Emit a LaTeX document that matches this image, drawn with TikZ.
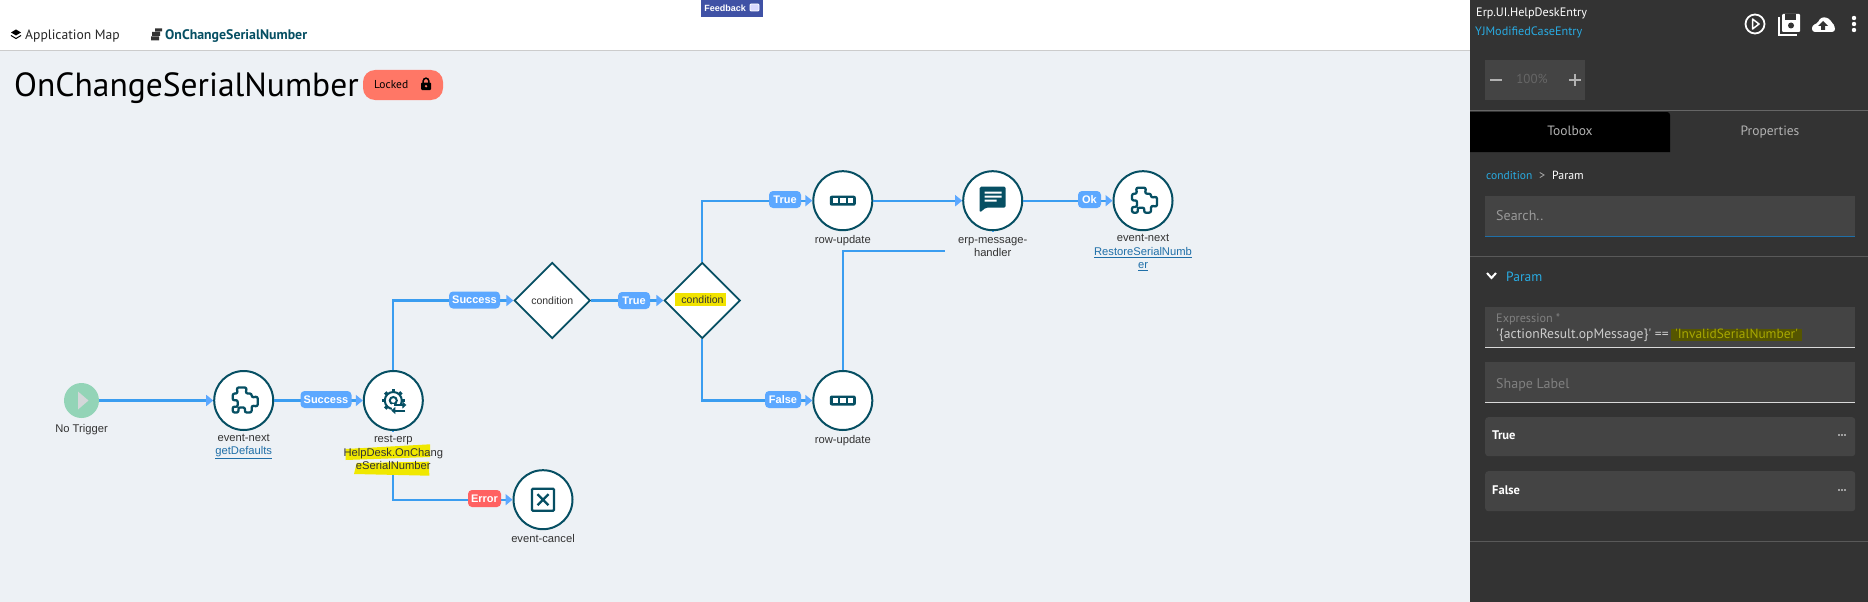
\documentclass[tikz,border=0pt]{standalone}
\usepackage{fontspec}
\setmainfont{Liberation Sans}
\newfontfamily\uifont{PT Sans}
\usetikzlibrary{arrows.meta,shapes.geometric}
\definecolor{canvas}{HTML}{EDF1F5}
\definecolor{panel}{HTML}{333333}
\definecolor{field}{HTML}{444444}
\definecolor{teal}{HTML}{064F63}
\definecolor{flowblue}{HTML}{3A9DF0}
\definecolor{pillblue}{HTML}{5CA8FF}
\definecolor{pillred}{HTML}{FF6161}
\definecolor{salmon}{HTML}{FF7766}
\definecolor{marker}{HTML}{F0E800}
\definecolor{linkblue}{HTML}{1F6FA8}
\definecolor{skyblue}{HTML}{29ABE2}
\definecolor{feedbackblue}{HTML}{3F51A5}
\definecolor{startgreen}{HTML}{93D4B7}
\definecolor{oliveback}{HTML}{555500}
\definecolor{olivetext}{HTML}{A8A800}
\newcommand{\linktext}[1]{\textcolor{linkblue}{\underline{#1}}}
\tikzset{
	task/.style={circle, draw=teal, fill=white, line width=2pt, minimum size=59pt, inner sep=0pt},
	decision/.style={diamond, draw=teal, fill=white, line width=1.8pt, minimum width=76pt, minimum height=76pt, inner sep=0pt, font=\fontsize{10.5}{12}\selectfont, text=black!80},
	flow/.style={draw=flowblue, line width=2.2pt},
	flowto/.style={flow, -{Triangle[length=7pt,width=11pt,color=pillblue]}},
	pill/.style={fill=pillblue, rounded corners=4pt, text=white, inner sep=0pt, minimum height=17pt, font=\fontsize{11}{12}\selectfont\bfseries},
	caption/.style={align=center, inner sep=0pt, text=black!80, font=\fontsize{11.2}{13.5}\selectfont},
	mask/.style={fill=canvas, inner sep=0pt},
	ui/.style={inner sep=0pt, anchor=west, text height=8pt, text depth=2pt, font=\uifont\fontsize{12.2}{14}\selectfont},
	box/.style={fill=field, draw=none, inner sep=0pt, minimum width=370pt, anchor=north west},
	puzzle/.pic={
		\draw[teal, line width=2.3pt, rounded corners=2pt, line join=round] (-11,-7) -- (-6,-7) -- (-7,-13) -- (3,-13) -- (2,-7) -- (8,-7) -- (8,-3) -- (14,-4) -- (14,6) -- (8,5) -- (8,12) -- (1,12) -- (1.5,7) -- (-5.5,7) -- (-5,12) -- (-11,12) -- (-11,6) -- (-6,6.5) -- (-6,-0.5) -- (-11,0) -- cycle;
	},
	gearicon/.pic={
		\foreach \a in {0,45,...,315}
			\draw[teal, line width=3.4pt] (\a:8) -- (\a:11.5);
		\draw[teal, line width=2pt] (0,0) circle (8.5) (0,0) circle (3.5);
		\fill[white] (-1,3) rectangle (14,13);
		\draw[teal, line width=2pt, -{Triangle[length=4pt,width=7pt]}] (1,4.5) -- (13,4.5);
		\draw[teal, line width=2pt, -{Triangle[length=4pt,width=7pt]}] (12,10) -- (-2,10);
	},
	baricon/.pic={
		\fill[teal, rounded corners=2pt] (-13,-5) rectangle (13,5);
		\foreach \x in {-7.5,0,7.5}
			\fill[white] (\x-2.7,-2.7) rectangle (\x+2.7,2.7);
	},
	chaticon/.pic={
		\fill[teal, rounded corners=1.5pt] (-13,-14) -- (13,-14) -- (13,7) -- (-7,7) -- (-13,12) -- cycle;
		\fill[white] (-8,-9) rectangle (9,-7) (-8,-5) rectangle (9,-3) (-8,-1) rectangle (4,1);
	},
	crossicon/.pic={
		\draw[teal, line width=2.4pt, rounded corners=1pt] (-11,-11) rectangle (11,11);
		\draw[teal, line width=2.4pt] (-5.5,-5.5) -- (5.5,5.5) (-5.5,5.5) -- (5.5,-5.5);
	},
	lockicon/.pic={
		\draw[black, line width=1.5pt] (-2.8,-1) -- (-2.8,-3) arc (180:360:2.8) -- (2.8,-1);
		\fill[black, rounded corners=1pt] (-5,-1.5) rectangle (5,6);
		\fill[salmon] (0,2.2) circle (1.3);
	},
}
\begin{document}
\begin{tikzpicture}[x=1pt, y=-1pt]
\useasboundingbox (0,0) rectangle (1868,602);
\fill[white] (0,0) rectangle (1470,50);
\fill[canvas] (0,50) rectangle (1470,602);
\draw[black!20, line width=1pt] (0,50.5) -- (1470,50.5);
\fill[panel] (1470,0) rectangle (1868,602);

\fill[black] (16,29.5) -- (21,32.5) -- (16,35.5) -- (11,32.5) -- cycle;
\draw[black, line width=1pt] (11,35.5) -- (16,38.5) -- (21,35.5);
\node[ui, text=black!85, font=\uifont\fontsize{13.6}{14}\selectfont] (appMap) at (25,36.5) {Application Map};
\fill[black!80] (152,32) rectangle (160,36) (155,28.5) rectangle (162,31.5) (151,36.5) rectangle (159,40.5);
\node[ui, text=teal, font=\uifont\bfseries\fontsize{13.85}{14}\selectfont] (mapItem) at (165,36.5) {OnChangeSerialNumber};
\node[fill=feedbackblue, inner sep=0pt, minimum width=62pt, minimum height=17pt, anchor=north west, text=white] (feedback) at (701,0) {\hspace*{-14pt}\fontsize{9}{10}\selectfont\bfseries Feedback};
\draw[white, fill=white!85!blue, rounded corners=1pt, line width=0.8pt] (750,4) rectangle (759,11);
\node[ui, text height=20pt, text depth=7pt, font=\uifont\fontsize{33.5}{38}\selectfont] (pageTitle) at (14,90) {OnChangeSerialNumber};
\node[fill=salmon, rounded corners=12pt, minimum width=80pt, minimum height=30pt, inner sep=0pt] (lockedPill) at (403,85) {};
\node[ui, font=\uifont\fontsize{11.5}{14}\selectfont] (lockedText) at (374,85.5) {Locked};
\pic at (426,84) {lockicon};

\node[circle, fill=startgreen, inner sep=0pt, minimum size=35pt] (noTrigger) at (81.5,400.5) {};
\fill[cyan!15!black!20] (78,391.5) -- (78,409.5) -- (88.5,400.5) -- cycle;
\node[task] (eventNextA) at (243.7,400.5) {};
\node[task] (restErp) at (393.3,400.5) {};
\node[decision] (condA) at (552.3,300.5) {condition};
\node[decision] (condB) at (702.3,300.5) {};
\node[task] (rowUpdateA) at (842.8,200.7) {};
\node[task] (rowUpdateB) at (842.8,400.5) {};
\node[task] (erpHandler) at (992.7,200.7) {};
\node[task] (eventNextB) at (1143,200.7) {};
\node[task] (eventCancel) at (543,499.7) {};
\coordinate (erpJoin) at (992.7,250.7);

\pic at (eventNextA) {puzzle};
\pic at (restErp) {gearicon};
\pic at (rowUpdateA) {baricon};
\pic at (rowUpdateB) {baricon};
\pic at (erpHandler) {chaticon};
\pic at (eventNextB) {puzzle};
\pic at (eventCancel) {crossicon};

\draw[flowto] (noTrigger) -- (eventNextA);
\draw[flowto] (eventNextA) -- (restErp);
\draw[flowto] (restErp.north) |- (condA);
\draw[flowto] (restErp.south) |- (eventCancel);
\draw[flowto] (condA) -- (condB);
\draw[flowto] (condB.north) |- (rowUpdateA);
\draw[flowto] (condB.south) |- (rowUpdateB);
\draw[flowto] (rowUpdateA) -- (erpHandler);
\draw[flow] (rowUpdateB.north) |- (erpJoin) -- (erpHandler.south);
\draw[flowto] (erpHandler) -- (eventNextB);

\node[pill, minimum width=51pt] (successA) at (326,399.5) {Success};
\node[pill, minimum width=51pt] (successB) at (474.5,300) {Success};
\node[pill, minimum width=32pt] (trueA) at (634,300.5) {True};
\node[pill, minimum width=32pt] (trueB) at (785,199.5) {True};
\node[pill, minimum width=36pt] (falseA) at (783,399.5) {False};
\node[pill, minimum width=23pt] (okA) at (1089.5,199.5) {Ok};
\node[pill, minimum width=33pt, fill=pillred] (errorA) at (484.5,498.5) {Error};

\node[fill=marker!95!orange, inner sep=0pt, minimum width=51pt, minimum height=13pt, font=\fontsize{10.5}{12}\selectfont, text=black!80] (condBText) at (700.5,299.5) {\hspace*{4pt}condition};

\node[caption] (noTriggerText) at (81.5,430) {No Trigger};
\node[caption, anchor=north] (eventNextAText) at (243.7,434) {event-next\\\linktext{getDefaults}};
\node[mask, minimum width=100pt, minimum height=42pt] (restErpMask) at (393.3,453) {};
\fill[marker] (345.7,449) -- (430,444.3) -- (430,457) -- (345.7,460) -- cycle;
\fill[marker] (356.7,463) -- (429,461.7) -- (429.3,475.7) -- (354,474) -- cycle;
\node[caption, anchor=north] (restErpText) at (393.3,435.5) {rest-erp\\HelpDesk.OnChang\\eSerialNumber};
\node[caption] (rowUpdateAText) at (842.8,241) {row-update};
\node[caption] (rowUpdateBText) at (842.8,441) {row-update};
\node[caption, mask, minimum width=95pt, minimum height=30pt] (erpText) at (992.7,247) {erp-message-\\handler};
\node[caption, anchor=north] (eventNextBText) at (1143,234.5) {event-next\\\linktext{RestoreSerialNumb}\\\linktext{er}};
\node[caption] (eventCancelText) at (543,538) {event-cancel};

\node[ui, text=white] (moduleName) at (1476,14) {Erp.UI.HelpDeskEntry};
\node[ui, text=skyblue] (pageName) at (1475,32.5) {YJModifiedCaseEntry};
\draw[white, line width=1.8pt] (1755,24) circle (9.5);
\draw[white, line width=1.5pt, line join=round] (1752.5,19) -- (1752.5,29) -- (1759,24) -- cycle;
\draw[white, line width=1.3pt] (1779,17) -- (1779,35) -- (1797,35);
\fill[white, rounded corners=1pt] (1782,14) rectangle (1800,32);
\fill[panel] (1785,14) rectangle (1796,20);
\fill[panel] (1791,25.5) circle (3);
\fill[white, rounded corners=3pt] (1812,32) -- (1812,25) -- (1817,24) -- (1821,17) -- (1829,18) -- (1832,23) -- (1835,26) -- (1835,32) -- cycle;
\fill[panel] (1823,21) -- (1828,26) -- (1825,26) -- (1825,30) -- (1821,30) -- (1821,26) -- (1818,26) -- cycle;
\foreach \y in {18,24,30}
	\fill[white] (1854,\y) circle (2.2);

\fill[field] (1485,60) rectangle (1585,100);
\draw[white!70!black, line width=2pt] (1490,80) -- (1502,80) (1569,80) -- (1581,80) (1575,74) -- (1575,86);
\node[ui, anchor=center, text=white!40!black, font=\uifont\fontsize{13}{14}\selectfont] (zoomLevel) at (1532,80.5) {100\%};
\draw[white!40!black, line width=1pt] (1470,110.5) -- (1868,110.5);
\fill[black] (1470,112) -- (1667,112) arc (-90:0:3) -- (1670,152) -- (1470,152) -- cycle;
\node[ui, anchor=center, text=white!70!black, font=\uifont\fontsize{13.5}{14}\selectfont] (toolboxTab) at (1570,132) {Toolbox};
\node[ui, anchor=center, text=white!70!black, font=\uifont\fontsize{13.5}{14}\selectfont] (propertiesTab) at (1770,132) {Properties};
\node[ui, text=skyblue, font=\uifont\fontsize{11.5}{14}\selectfont] (crumbFrom) at (1486,176) {condition};
\node[ui, text=white!70!black] (crumbSep) at (1539,176) {>};
\node[ui, text=white, font=\uifont\fontsize{11.8}{14}\selectfont] (crumbTo) at (1552,176) {Param};

\node[box, minimum height=40pt] (searchBox) at (1485,196) {};
\draw[linkblue, line width=1pt] (searchBox.south west) -- (searchBox.south east);
\node[ui, text=white!60!black, font=\uifont\fontsize{14}{16}\selectfont] (searchText) at (1496,217) {Search..};
\draw[white!35!black, line width=1pt] (1470,256.5) -- (1868,256.5);
\draw[white, line width=2pt] (1487,273) -- (1491.5,278) -- (1496,273);
\node[ui, text=skyblue, font=\uifont\fontsize{13.5}{14}\selectfont] (paramHead) at (1506,278) {Param};

\node[box, minimum height=40pt] (exprBox) at (1485,307) {};
\draw[white!85!black, line width=1pt] (exprBox.south west) -- (exprBox.south east);
\node[ui, text=white!50!black] (exprLabel) at (1496,319.5) {Expression *};
\node[ui, text=white!80!black, font=\uifont\fontsize{13.6}{14}\selectfont] (exprText) at (1496,335) {'\{actionResult.opMessage\}' ==};
\node[ui, anchor=center, fill=oliveback, minimum width=131pt, minimum height=12pt, text=olivetext, font=\uifont\fontsize{13.4}{14}\selectfont] (exprValue) at (1736.5,335) {'InvalidSerialNumber'};

\node[box, minimum height=40pt] (shapeBox) at (1485,362) {};
\draw[white!85!black, line width=1pt] (shapeBox.south west) -- (shapeBox.south east);
\node[ui, text=white!50!black, font=\uifont\fontsize{14}{16}\selectfont] (shapeText) at (1496,385) {Shape Label};

\node[box, rounded corners=3pt, minimum height=39pt] (trueBox) at (1485,417) {};
\node[ui, text=white, font=\uifont\bfseries\fontsize{12.5}{14}\selectfont] (trueText) at (1492,436) {True};
\node[box, rounded corners=3pt, minimum height=40pt] (falseBox) at (1485,471) {};
\node[ui, text=white, font=\uifont\bfseries\fontsize{12.5}{14}\selectfont] (falseText) at (1492,491) {False};
\foreach \y in {435,490}
	\foreach \x in {1839,1842,1845}
		\fill[white] (\x,\y) circle (0.9);
\draw[white!35!black, line width=1pt] (1470,541.5) -- (1868,541.5);
\end{tikzpicture}
\end{document}
